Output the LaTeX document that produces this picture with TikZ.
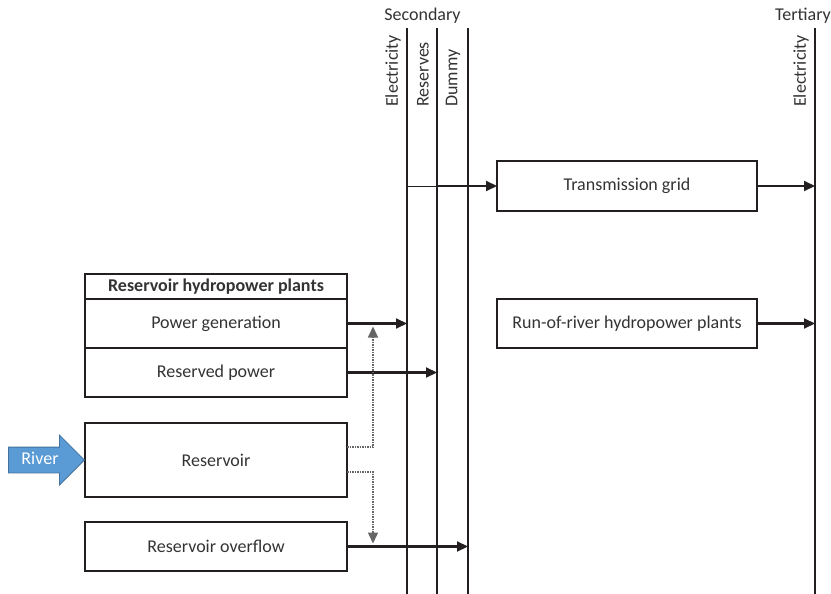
\documentclass[tikz,border=0pt]{standalone}
\usepackage{fontspec}
\setmainfont{Carlito}
\usepackage{tikz}
\usetikzlibrary{arrows.meta,positioning,shapes.arrows}

\definecolor{lineblk}{HTML}{231F20}
\definecolor{txtgray}{HTML}{333333}
\definecolor{riverfill}{HTML}{5B9BD5}
\definecolor{riverdraw}{HTML}{41719C}

\begin{document}
\begin{tikzpicture}[
    x=1pt, y=-1pt,
    font=\fontsize{18}{21}\selectfont,
    box/.style={rectangle, draw=lineblk, line width=2.1pt, minimum width=262pt, minimum height=49pt, text centered, text=txtgray, outer sep=0pt, inner sep=0pt},
    edge/.style={-{Triangle[length=11pt,width=10pt]}, line width=2.1pt, draw=lineblk},
    bus/.style={line width=2.1pt, draw=lineblk},
    hint/.style={densely dotted, line width=1.5pt, draw=black!60, -{Triangle[length=11pt,width=10pt]}},
    buslabel/.style={rotate=90, anchor=west, text=txtgray, inner sep=0pt}
]
\useasboundingbox (0,0) rectangle (831,594);

% group headers
\node[text=txtgray] (sec) at (422.5,16) {Secondary};
\node[text=txtgray, anchor=east, inner sep=0pt] (ter) at (831,16) {Tertiary};

% busbars
\coordinate (elTop) at (407,28);  \coordinate (elBot) at (407,594);
\coordinate (rvTop) at (437,28);  \coordinate (rvBot) at (437,594);
\coordinate (dmTop) at (468,28);  \coordinate (dmBot) at (468,594);
\coordinate (teTop) at (815,28);  \coordinate (teBot) at (815,594);
\draw[bus] (elTop) -- (elBot);
\draw[bus] (rvTop) -- (rvBot);
\draw[bus] (dmTop) -- (dmBot);
\draw[bus] (teTop) -- (teBot);

\node[buslabel] (elLab) at (393,107) {Electricity};
\node[buslabel] (rvLab) at (423,107) {Reserves};
\node[buslabel] (dmLab) at (453,107) {Dummy};
\node[buslabel] (teLab) at (801,107) {Electricity};

% reservoir hydropower plants
\node[box, minimum height=25pt] (hdr) at (216,286.5) {\textbf{Reservoir hydropower plants}};
\node[box, below=0pt of hdr] (gen) {Power generation};
\node[box, below=0pt of gen] (rsp) {Reserved power};
\node[box, minimum height=74pt, below=26pt of rsp] (rsv) {Reservoir};
\node[box, below=25pt of rsv] (ovf) {Reservoir overflow};

% other units
\node[box, minimum width=260pt, minimum height=50pt] (grid) at (627,186) {Transmission grid};
\node[box, minimum width=260pt, right=150pt of gen] (ror) {Run-of-river hydropower plants};

% river inflow
\node[single arrow, fill=riverfill, draw=riverdraw, line width=0.8pt, text=white,
      minimum height=76pt, single arrow head extend=12pt, single arrow head indent=0pt,
      text height=12pt, text depth=3pt, inner ysep=5pt, inner xsep=2pt, anchor=tip] (river) at (rsv.west) {River};

% flows
\draw[edge] (gen.east) -- (gen.east -| elBot);
\draw[edge] (rsp.east) -- (rsp.east -| rvBot);
\draw[edge] (ovf.east) -- (ovf.east -| dmBot);
\draw[line width=0.9pt, draw=lineblk] (elTop |- grid.west) -- (rvTop |- grid.west);
\draw[edge] (rvTop |- grid.west) -- (grid.west);
\draw[edge] (grid.east) -- (grid.east -| teBot);
\draw[edge] (ror.east) -- (ror.east -| teBot);

% reservoir release
\draw[hint] ([yshift=13pt]rsv.east) -| ([xshift=26pt,yshift=-3pt]gen.east);
\draw[hint] ([yshift=-12pt]rsv.east) -| ([xshift=26pt,yshift=3pt]ovf.east);
\end{tikzpicture}
\end{document}
